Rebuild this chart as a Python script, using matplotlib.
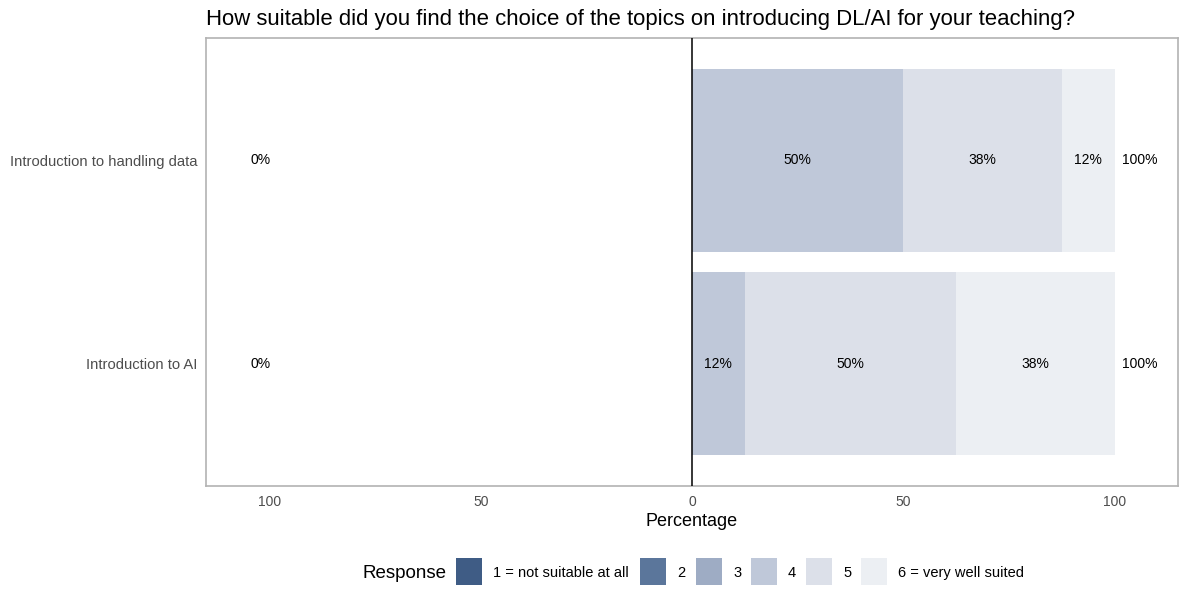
import matplotlib
matplotlib.use("Agg")
import matplotlib.pyplot as plt
from matplotlib.patches import Rectangle
import numpy as np

plt.rcParams['font.family'] = ['Liberation Sans', 'DejaVu Sans']

title = "How suitable did you find the choice of the topics on introducing DL/AI for your teaching?"
items = ["Introduction to AI", "Introduction to handling data"]
levels = ["1 = not suitable at all", "2", "3", "4", "5", "6 = very well suited"]
colors = ["#3F5C85", "#5B769B", "#9EACC4", "#BFC8D9", "#DCE0E9", "#ECEFF3"]
# percentages per level (1..6) for each item
values = {
    "Introduction to AI":            [0, 0, 0, 12.5, 50.0, 37.5],
    "Introduction to handling data": [0, 0, 0, 50.0, 37.5, 12.5],
}
low_labels = ["0%", "0%"]
high_labels = ["100%", "100%"]
xticks = [-100, -50, 0, 50, 100]
xticklabels = ["100", "50", "0", "50", "100"]


def pct(v):
    # R-style rounding (round half to even) as in the reference labels
    return f"{int(np.round(v))}%"


W, H = 1182, 589
fig = plt.figure(figsize=(W/100, H/100), dpi=100)
ax = fig.add_axes([206/W, 1-486/H, (1178-206)/W, (486-38)/H])

ypos = np.arange(1, len(items)+1)
for yi, item in zip(ypos, items):
    left = 0.0
    for v, c in zip(values[item], colors):
        if v <= 0:
            continue
        ax.barh(yi, v, left=left, height=0.9, color=c, edgecolor='none', zorder=2)
        ax.text(left + v/2, yi, pct(v), ha='center', va='center',
                fontsize=10, color='black', zorder=3)
        left += v
for yi, lo, hi in zip(ypos, low_labels, high_labels):
    ax.text(-102, yi, lo, ha='center', va='center', fontsize=10, color='black')
    ax.text(106, yi, hi, ha='center', va='center', fontsize=10, color='black')

ax.set_xlim(-115, 115)
ax.set_ylim(0.4, 2.6)
ax.axvline(0, color='black', lw=1.1, zorder=4)
for gx in [-100, -75, -50, -25, 25, 50, 75, 100]:
    ax.axvline(gx, color='white', lw=1.3, zorder=1)
ax.set_xticks(xticks)
ax.set_xticklabels(xticklabels)
ax.set_yticks(ypos)
ax.set_yticklabels(items)
ax.tick_params(axis='both', length=0, labelcolor='#4D4D4D')
ax.tick_params(axis='x', pad=6.5, labelsize=10)
ax.tick_params(axis='y', pad=6, labelsize=10.6)
for s in ax.spines.values():
    s.set_color('#B3B3B3')
    s.set_linewidth(1.2)
ax.set_xlabel("Percentage", fontsize=13, color='black', labelpad=3)
fig.text(206/W, 1-19/H, title, fontsize=15.9, ha='left', va='center', color='black')

# legend
ly = 1 - 573/H
fig.text(362/W, ly, "Response", fontsize=13.5, ha='left', va='center', color='black')
key_x = [455.7, 640, 696, 750.7, 806, 861]
for kx, c, lab in zip(key_x, colors, levels):
    fig.patches.append(Rectangle((kx/W, 1-585/H), 26/W, 27/H, transform=fig.transFigure,
                                 facecolor=c, edgecolor='none'))
    fig.text((kx+37)/W, ly, lab, fontsize=10.5, ha='left', va='center', color='black')

fig.savefig("out.png", dpi=100)
